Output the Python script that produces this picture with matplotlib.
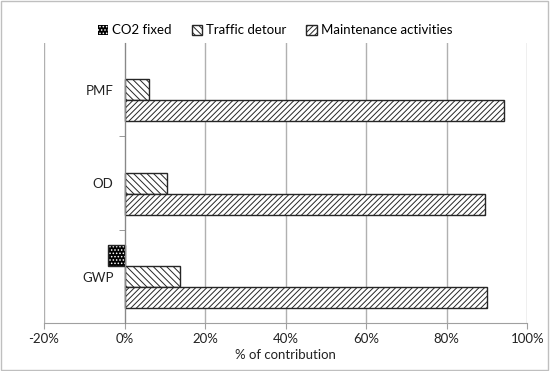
import matplotlib.pyplot as plt
import matplotlib.patches as mpatches
import numpy as np

plt.rcParams['font.family'] = ['Lato', 'DejaVu Sans']
plt.rcParams['hatch.linewidth'] = 0.7

categories = ['GWP', 'OD', 'PMF']
co2_fixed = [-4.0, 0.0, 0.0]
traffic_detour = [13.8, 10.5, 6.0]
maintenance = [89.9, 89.6, 94.3]
series_names = ['CO2 fixed', 'Traffic detour', 'Maintenance activities']
xticks = [-20, 0, 20, 40, 60, 80, 100]

fig = plt.figure(figsize=(5.5, 3.71), dpi=100)
ax = fig.add_axes([0.08, 0.1286, 0.8787, 0.7554])

y = np.arange(len(categories))
h = 0.225
edge = '#262626'

# CO2 fixed: black with white dots (only non-zero values get a bar)
co2 = np.array(co2_fixed)
nz = co2 != 0
ax.barh(y[nz] + h, co2[nz], height=h, color='black', hatch='.....',
        edgecolor='white', linewidth=0, zorder=3)
ax.barh(y[nz] + h, co2[nz], height=h, fill=False, edgecolor=edge,
        linewidth=1.0, zorder=4)
ax.barh(y, traffic_detour, height=h, color='white', hatch='\\\\\\\\\\',
        edgecolor=edge, linewidth=1.0, zorder=3)
ax.barh(y - h, maintenance, height=h, color='white', hatch='//////',
        edgecolor=edge, linewidth=1.0, zorder=3)

ax.set_xlim(-20, 100)
ax.set_ylim(-0.5, 2.5)
ax.set_xticks(xticks)
ax.set_xticklabels([f'{t}%' for t in xticks])
ax.set_yticks(y)
ax.set_yticklabels(categories)
ax.set_yticks([0.5, 1.5], minor=True)
ax.tick_params(axis='y', which='major', length=0, pad=8, labelsize=9.5, colors='#222222')
ax.tick_params(axis='y', which='minor', length=4, color='#888888')
ax.tick_params(axis='x', length=4, color='#a0a0a0', labelsize=9.5, labelcolor='#222222', pad=3)
ax.set_xlabel('% of contribution', fontsize=9.5, color='#222222', labelpad=3)

ax.grid(axis='x', color='#b0b0b0', linewidth=1.0, zorder=0)
ax.set_axisbelow(True)
for s in ['top', 'right']:
    ax.spines[s].set_visible(False)
ax.spines['left'].set_position(('data', 0))
ax.spines['left'].set_color('#888888')
ax.spines['bottom'].set_color('#a0a0a0')
ax.spines['left'].set_zorder(5)

handles = [
    mpatches.Patch(facecolor='black', hatch='.....', edgecolor='white', linewidth=0),
    mpatches.Patch(facecolor='white', hatch='\\\\\\\\\\', edgecolor=edge),
    mpatches.Patch(facecolor='white', hatch='//////', edgecolor=edge),
]
fig.legend(handles, series_names, loc='center', bbox_to_anchor=(0.5, 0.918),
           ncol=3, frameon=False, fontsize=9.5, handlelength=0.8,
           handleheight=0.8, handletextpad=0.3, columnspacing=1.5)

fig.add_artist(mpatches.Rectangle((0.002, 0.003), 0.995, 0.994, transform=fig.transFigure,
                                  fill=False, edgecolor='#bfbfbf', linewidth=1.0))

fig.savefig('out.png', dpi=100)
